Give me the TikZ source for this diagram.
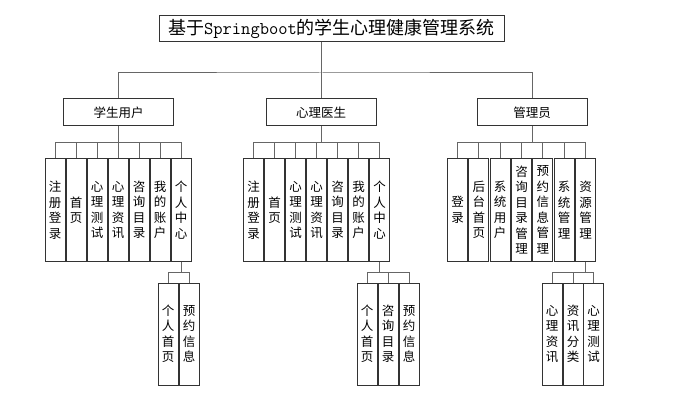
\documentclass[tikz,border=0pt]{standalone}
\usepackage{fontspec}
\newfontfamily\cjk{Noto Sans CJK SC}

\begin{document}
\begin{tikzpicture}[x=1pt,y=-1pt,line width=1pt,
  box/.style={draw=black!80,fill=white,inner sep=0pt,align=center,
    font=\cjk\fontsize{12.5}{15.5}\selectfont},
  head/.style={box,minimum width=110,minimum height=27},
  leaf/.style={box,minimum width=20,minimum height=102},
  conn/.style={draw=black!60}]
\useasboundingbox (0,0) rectangle (692,395);
\node[box,minimum width=345,minimum height=26,font=\fontsize{18}{20}\selectfont] (title) at (331.5,29)
  {{\cjk 基于}{\ttfamily Springboot}{\cjk 的学生心理健康管理系统}};
\node[head] (stu) at (118.5,112.5) {学生用户};
\node[head] (doc) at (321,112.5) {心理医生};
\node[head] (adm) at (532,112.5) {管理员};
% second level
\foreach \t [count=\i] in {注\\册\\登\\录,首\\页,心\\理\\测\\试,心\\理\\资\\讯,咨\\询\\目\\录,我\\的\\账\\户,个\\人\\中\\心}
  \node[leaf] (s\i) at ({34+21*\i},210) {\t};
\foreach \t [count=\i] in {注\\册\\登\\录,首\\页,心\\理\\测\\试,心\\理\\资\\讯,咨\\询\\目\\录,我\\的\\账\\户,个\\人\\中\\心}
  \node[leaf] (d\i) at ({232.5+21*\i},210) {\t};
\foreach \t [count=\i] in {登\\录,后\\台\\首\\页,系\\统\\用\\户,咨\\询\\目\\录\\管\\理,预\\约\\信\\息\\管\\理,系\\统\\管\\理,资\\源\\管\\理}
  \node[leaf] (a\i) at ({436.2+21.33*\i},210) {\t};
% third level
\node[leaf] (s71) at (168,334) {个\\人\\首\\页};
\node[leaf] (s72) at (189,334) {预\\约\\信\\息};
\node[leaf] (d71) at (367,334) {个\\人\\首\\页};
\node[leaf] (d72) at (388,334) {咨\\询\\目\\录};
\node[leaf] (d73) at (409,334) {预\\约\\信\\息};
\node[leaf] (a71) at (552,334) {心\\理\\资\\讯};
\node[leaf] (a72) at (573,334) {资\\讯\\分\\类};
\node[leaf] (a73) at (593.5,334) {心\\理\\测\\试};
% connectors
\coordinate (top) at (321,73);
\coordinate (mid) at (0,142.5);
\coordinate (low) at (0,272);
\draw[conn] (doc.north |- title.south) -- (doc.north);
\draw[conn] (stu.north) |- (top) -| (adm.north);
\foreach \g/\p in {s/stu,d/doc,a/adm} {
  \draw[conn] (\p.south) -- (\p.south |- mid);
  \draw[conn] (\g1.north |- mid) -- (\g7.north |- mid);
  \foreach \i in {1,...,7}
    \draw[conn] (\g\i.north |- mid) -- (\g\i.north);
}
\foreach \g/\n in {s/2,d/3,a/3} {
  \draw[conn] (\g7.south) -- (\g7.south |- low);
  \draw[conn] (\g71.north |- low) -- (\g7\n.north |- low);
  \foreach \i in {1,...,\n}
    \draw[conn] (\g7\i.north |- low) -- (\g7\i.north);
}
\end{tikzpicture}
\end{document}
